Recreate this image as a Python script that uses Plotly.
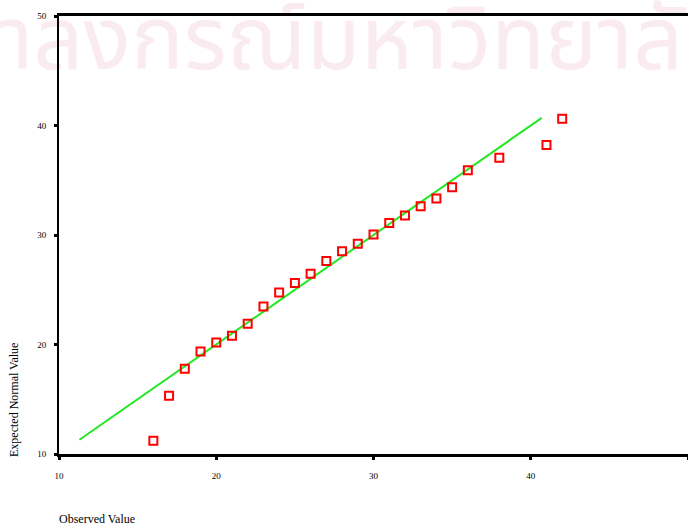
import plotly.graph_objects as go

observed = [16, 17, 18, 19, 20, 21, 22, 23, 24, 25, 26, 27, 28, 29, 30, 31, 32, 33, 34, 35, 36, 38, 41, 42]
expected = [11.22, 15.33, 17.78, 19.36, 20.18, 20.80, 21.89, 23.48, 24.76, 25.62, 26.47, 27.63,
            28.51, 29.21, 30.04, 31.09, 31.78, 32.63, 33.33, 34.36, 35.92, 37.05, 38.21, 40.62]
line_x = [11.3, 40.7]
line_y = [11.3, 40.7]
tick_vals = [10, 20, 30, 40, 50]
tick_text = ["10", "20", "30", "40", "50"]
watermark = "จุฬาลงกรณ์มหาวิทยาลัย"

fig = go.Figure()
# faint watermark, drawn beneath the axis lines and marks
fig.add_trace(go.Scatter(x=[26.2], y=[47.2], mode="text", text=[watermark],
                         textposition="middle center", cliponaxis=False, hoverinfo="skip",
                         textfont=dict(family="Noto Sans Thai, DejaVu Sans, sans-serif", size=88,
                                       color="#f9ebf1"),
                         showlegend=False))
fig.add_trace(go.Scatter(x=line_x, y=line_y, mode="lines",
                         line=dict(color="#22e822", width=2), showlegend=False))
fig.add_trace(go.Scatter(x=observed, y=expected, mode="markers",
                         marker=dict(symbol="square-open", size=8, color="#ff0000",
                                     line=dict(width=2, color="#ff0000")),
                         showlegend=False))

fig.add_annotation(text="Expected Normal Value", xref="paper", yref="paper",
                   x=0, y=0, xanchor="center", yanchor="bottom", xshift=-45,
                   textangle=-90, showarrow=False, yshift=-5,
                   font=dict(family="Liberation Serif, Times New Roman, serif", size=12, color="#000"))
fig.add_annotation(text="Observed Value", xref="paper", yref="paper",
                   x=0, y=0, xanchor="left", yanchor="top", showarrow=False,
                   yshift=-56, xshift=-2,
                   font=dict(family="Liberation Serif, Times New Roman, serif", size=12, color="#000"))

axis_font = dict(family="Liberation Serif, Times New Roman, serif", size=9, color="#000")
fig.update_layout(
    xaxis=dict(range=[10, 50], tickvals=tick_vals, ticktext=tick_text, showgrid=False,
               zeroline=False, showline=True, linecolor="#000", linewidth=3, mirror=True,
               ticks="outside", ticklen=3, tickwidth=3, tickcolor="#000",
               tickfont=axis_font, ticklabelstandoff=8),
    yaxis=dict(range=[10, 50], tickvals=tick_vals, ticktext=tick_text, showgrid=False,
               zeroline=False, showline=True, linecolor="#000", linewidth=2,
               ticks="outside", ticklen=3, tickwidth=3, tickcolor="#000",
               tickfont=axis_font, ticklabelstandoff=6),
    width=688, height=524, margin=dict(l=59, r=0, t=16, b=70),
    plot_bgcolor="white", paper_bgcolor="white")
fig.write_html("out.html", config={"displayModeBar": False},
               post_script="document.body.style.margin='0';")
